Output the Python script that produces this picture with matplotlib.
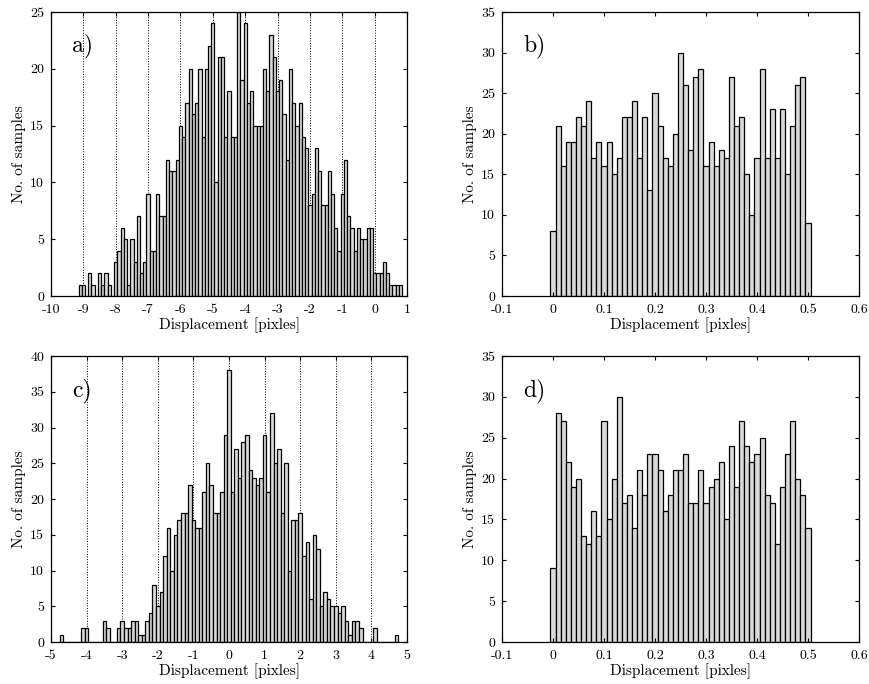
import numpy as np
import matplotlib
matplotlib.use("Agg")
import matplotlib.pyplot as plt

plt.rcParams["font.family"] = "cmr10"
plt.rcParams["mathtext.fontset"] = "cm"
plt.rcParams["axes.unicode_minus"] = False
plt.rcParams["axes.formatter.use_mathtext"] = True

# bin centres and counts for each histogram
a_centers = np.round(np.arange(-9.1, 0.85, 0.1), 2)
a_counts = [1, 1, 0, 2, 1, 0, 2, 1, 2, 1, 0,
            3, 4, 6, 5, 1, 5, 3, 7, 2, 3,
            9, 4, 4, 9, 7, 7, 12, 11, 11, 12,
            15, 14, 17, 20, 16, 17, 20, 14, 20, 22,
            24, 10, 21, 21, 14, 18, 14, 14, 25, 19,
            24, 17, 18, 15, 15, 15,
            20, 18, 23, 21, 18, 19, 16, 12, 20, 17, 15, 17, 14, 13,
            8, 9, 13, 11, 8, 8, 11, 9, 6, 4, 9, 12,
            7, 6, 4, 6, 5, 5, 6, 6,
            2, 2, 2, 3, 2, 1, 1, 1, 1]

b_centers = np.round(np.arange(0.0, 0.505, 0.01), 3)
b_counts = [8, 21, 16, 19, 19, 22, 21, 24, 17, 19, 16, 19, 15, 17, 22, 22, 24,
            17, 22, 13, 25, 21, 17, 16, 20, 30, 26, 18, 27, 28, 16, 19, 16, 18,
            17, 27, 21, 22, 15, 10, 17, 28, 17, 23, 17, 23, 15, 21, 26, 27, 9]

c_centers = np.round(np.arange(-4.7, 4.75, 0.1), 2)
c_counts = [1, 0, 0, 0, 0, 0, 2, 2, 0, 0, 0, 0, 3, 2, 0, 0,
            2, 3, 2, 2, 3, 3, 1, 1, 3, 4, 8, 5, 7, 12, 16, 10, 15, 17, 18, 18,
            22, 17, 16, 16, 21, 25, 22, 18, 18, 21, 29, 38,
            21, 27, 23, 28, 29, 24, 23, 22, 23, 29, 21, 32, 25, 27, 18, 25,
            10, 17, 17, 18, 12, 14, 6, 15, 13, 5, 7, 6, 5, 5, 4, 5, 3, 1,
            3, 3, 2, 0, 0, 0, 2, 0, 0, 0, 0, 0, 1]

d_centers = np.round(np.arange(0.0, 0.505, 0.01), 3)
d_counts = [9, 28, 27, 22, 19, 20, 13, 12, 16, 13, 27, 15, 20, 30, 17, 18, 14,
            21, 18, 23, 23, 21, 16, 18, 21, 21, 23, 17, 17, 21, 17, 19, 20, 22,
            15, 24, 19, 27, 24, 22, 23, 25, 18, 17, 12, 19, 23, 27, 20, 18, 14]

panels = [
    ("a)", a_centers, a_counts, 0.1, (-10, 1), np.arange(-10, 2, 1), (0, 25), np.arange(0, 30, 5), True),
    ("b)", b_centers, b_counts, 0.01, (-0.1, 0.6), np.round(np.arange(-0.1, 0.65, 0.1), 1), (0, 35), np.arange(0, 40, 5), False),
    ("c)", c_centers, c_counts, 0.1, (-5, 5), np.arange(-5, 6, 1), (0, 40), np.arange(0, 45, 5), True),
    ("d)", d_centers, d_counts, 0.01, (-0.1, 0.6), np.round(np.arange(-0.1, 0.65, 0.1), 1), (0, 35), np.arange(0, 40, 5), False),
]

rects = [
    [0.0587, 0.5673, 0.4097, 0.4152],
    [0.5777, 0.5673, 0.4108, 0.4152],
    [0.0587, 0.0614, 0.4097, 0.4181],
    [0.5777, 0.0614, 0.4108, 0.4181],
]

fig = plt.figure(figsize=(8.69, 6.84), dpi=100)

for rect, (tag, centers, counts, width, xlim, xticks, ylim, yticks, grid) in zip(rects, panels):
    ax = fig.add_axes(rect)
    ax.bar(centers, counts, width=width, color="0.85", edgecolor="k", linewidth=0.9)
    ax.set_xlim(*xlim)
    ax.set_ylim(*ylim)
    ax.set_xticks(xticks)
    ax.set_yticks(yticks)
    ax.set_xticklabels([("%g" % t) for t in xticks])
    ax.set_yticklabels([("%g" % t) for t in yticks])
    ax.tick_params(direction="in", length=3, width=0.8, top=True, right=True, labelsize=10)
    ax.tick_params(axis="x", pad=6)
    ax.tick_params(axis="y", pad=5)
    for sp in ax.spines.values():
        sp.set_linewidth(0.9)
    if grid:
        ax.set_axisbelow(True)
        ax.grid(axis="x", linestyle=":", color="k", linewidth=0.7)
    ax.set_xlabel("Displacement [pixles]", fontsize=11, labelpad=1)
    ax.set_ylabel("No. of samples", fontsize=11, labelpad=3)
    ax.text(0.06, 0.88, tag, transform=ax.transAxes, fontsize=17, va="center", ha="left")

fig.savefig("out.png", dpi=100)
